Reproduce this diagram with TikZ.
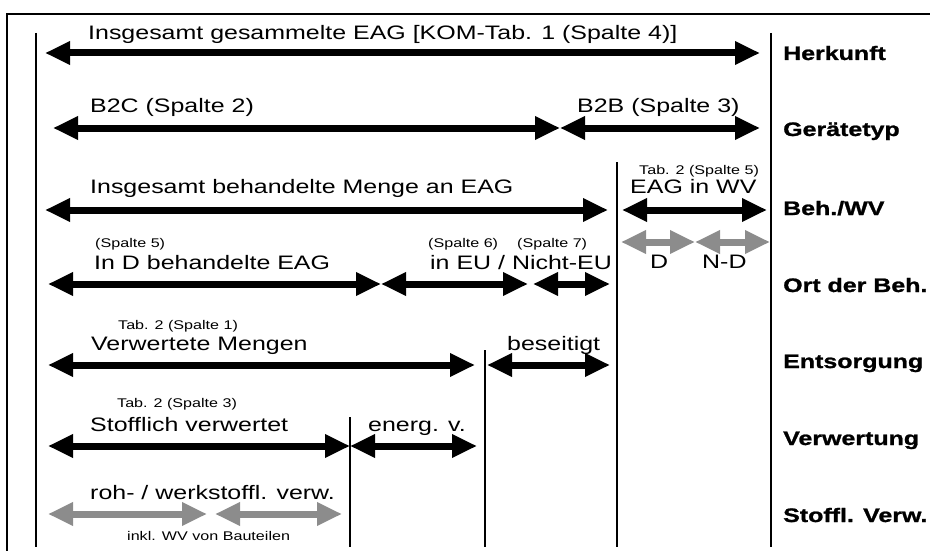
\documentclass[tikz,border=0pt]{standalone}
\usepackage{fontspec}
\setmainfont{Liberation Sans}[FakeStretch=1.28,Ligatures=CommonOff,BoldFeatures={FakeBold=1.2}]
\usetikzlibrary{arrows.meta}
\definecolor{arrgrey}{RGB}{140,140,140}
\begin{document}
\begin{tikzpicture}[x=1pt,y=-1pt,every node/.style={inner sep=0pt,anchor=base west,font=\fontsize{19.5}{22}\selectfont},bar/.style={{Triangle[length=25pt,width=22pt]}-{Triangle[length=25pt,width=22pt]},line width=7pt},gbar/.style={bar,arrgrey},small/.style={font=\fontsize{12.6}{14}\selectfont},row/.style={font=\bfseries\fontsize{19.5}{22}\selectfont},sep/.style={line width=1.3pt}]
\useasboundingbox (0,0) rectangle (930,551);
% frame and column lines
\draw[line width=2pt] (7,551)--(7,14)--(930,14);
\draw[sep] (36,33)--(36,547);\draw[sep] (771,33)--(771,547);\draw[sep] (617,162)--(617,547);\draw[sep] (485,350)--(485,547);\draw[sep] (350,417)--(350,547);
% row labels
\node[row] (herk) at (783,60) {Herkunft};\node[row] (typ) at (783,136) {Gerätetyp};\node[row] (beh) at (783,215) {Beh./WV};\node[row] (ort) at (783,292) {Ort der Beh.};
\node[row] (ents) at (783,368) {Entsorgung};\node[row] (verw) at (783,445) {Verwertung};\node[row] (stoff) at (783,522) {Stoffl. Verw.};
% Herkunft
\draw[bar] (45,53)--(760,53);\node (ges) at (88,40) {Insgesamt gesammelte EAG [KOM-Tab. 1 (Spalte 4)]};
% Geraetetyp
\draw[bar] (53,128)--(560,128);\draw[bar] (560,128)--(760,128);
\node (b2c) at (90,113) {B2C (Spalte 2)};\node (b2b) at (577,113) {B2B (Spalte 3)};
% Behandlung / WV
\draw[bar] (45,210)--(608,210);\draw[bar] (622,210)--(767,210);
\node (behm) at (90,193) {Insgesamt behandelte Menge an EAG};\node[small] (t5) at (639,175) {Tab. 2 (Spalte 5)};\node (wv) at (630,193) {EAG in WV};
\draw[gbar] (621,242)--(695,242);\draw[gbar] (695,242)--(770,242);
\node (wvd) at (650,268) {D};\node (wvnd) at (702,268) {N-D};
% Ort der Behandlung
\draw[bar] (48,284)--(381,284);\draw[bar] (381,284)--(528,284);\draw[bar] (533,284)--(610,284);
\node[small] (s5) at (95,247) {(Spalte 5)};\node[small] (s6) at (428,247) {(Spalte 6)};\node[small] (s7) at (517,247) {(Spalte 7)};
\node (ind) at (94,269) {In D behandelte EAG};\node (ineu) at (430,269) {in EU / Nicht-EU};
% Entsorgung
\draw[bar] (48,365)--(475,365);\draw[bar] (487,365)--(610,365);
\node[small] (t1) at (118,329) {Tab. 2 (Spalte 1)};\node (vm) at (91,350) {Verwertete Mengen};\node (bes) at (507,350) {beseitigt};
% Verwertung
\draw[bar] (48,446)--(350,446);\draw[bar] (350,446)--(477,446);
\node[small] (t3) at (117,407) {Tab. 2 (Spalte 3)};\node (sv) at (90,431) {Stofflich verwertet};\node (en) at (368,431) {energ. v.};
% stoffliche Verwertung
\draw[gbar] (48,514)--(207,514);\draw[gbar] (215,514)--(342,514);
\node (rw) at (90,499) {roh- / werkstoffl. verw.};\node[small] (inkl) at (127,540) {inkl. WV von Bauteilen};
\end{tikzpicture}
\end{document}
